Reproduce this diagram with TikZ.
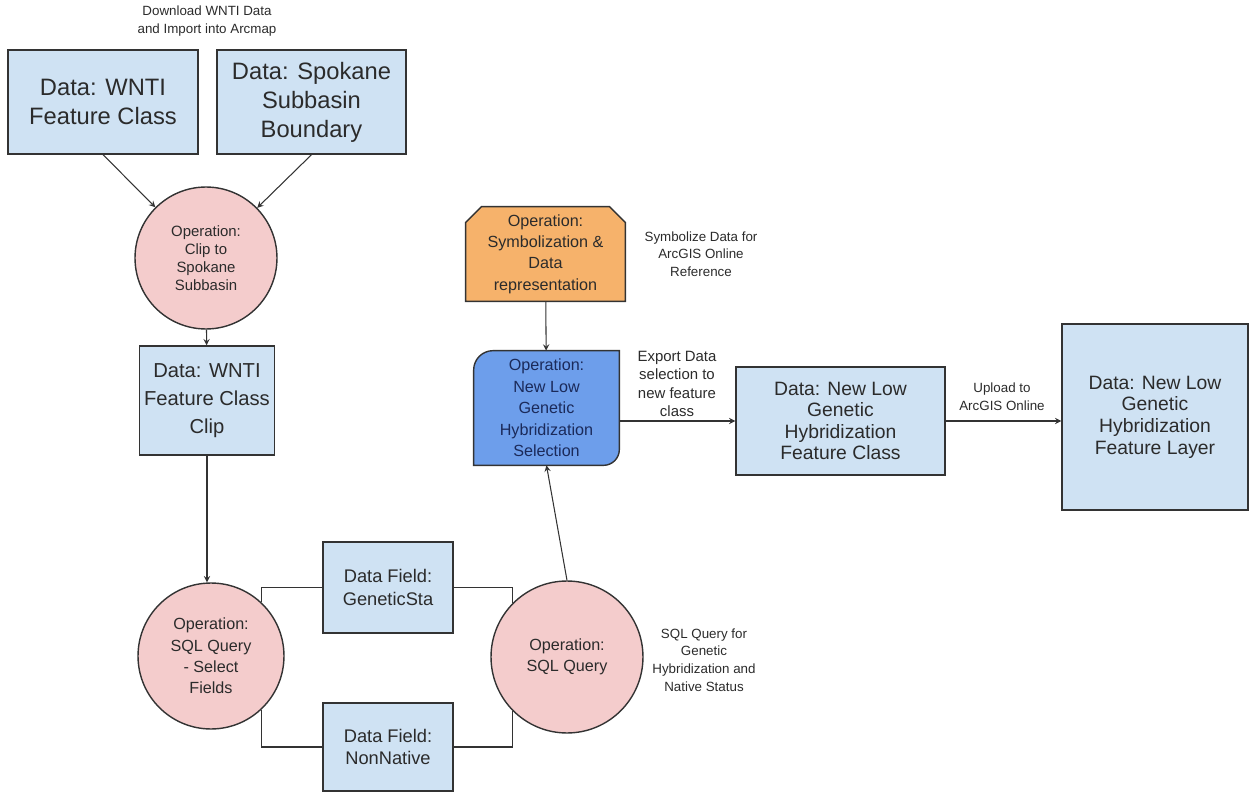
\documentclass[tikz,border=0pt]{standalone}
\usepackage{fontspec}
\setmainfont{Liberation Sans}
\usetikzlibrary{positioning,backgrounds,arrows}
\definecolor{databg}{HTML}{CFE2F3}
\definecolor{opbg}{HTML}{F4CCCC}
\definecolor{symbg}{HTML}{F6B26B}
\definecolor{selbg}{HTML}{6D9EEB}
\definecolor{edge}{HTML}{333333}
\definecolor{ink}{HTML}{2B2B2B}
\definecolor{selink}{HTML}{1B2A5A}
\tikzstyle{databox} = [draw=edge, line width=0.8pt, fill=databg, rectangle, text=ink, align=center, inner sep=2pt]
\tikzstyle{bigtext} = [font=\fontsize{13.5}{16.5}\selectfont]
\tikzstyle{midtext} = [font=\fontsize{11}{12.3}\selectfont]
\tikzstyle{optext} = [font=\fontsize{9.2}{12.2}\selectfont]
\tikzstyle{opcircle} = [draw=edge, line width=0.8pt, fill=opbg, circle, text=ink, align=center, inner sep=0pt]
\tikzstyle{opbox} = [rectangle, align=center, inner sep=0pt, optext]
\tikzstyle{note} = [text=ink, align=center, font=\fontsize{7.6}{10}\selectfont]
\tikzstyle{arrow} = [line width=0.6pt, draw=edge, ->, >=stealth]
\tikzstyle{link} = [line width=0.6pt, draw=edge]

\begin{document}
\begin{tikzpicture}[x=0.02cm, y=-0.02cm]
    \useasboundingbox (0,0) rectangle (1249,794);

    % source data
    \node[note] (download) at (207,21) {Download WNTI Data\\and Import into Arcmap};
    \node[databox, bigtext, minimum width=3.8cm,  minimum height=2.08cm] (wnti)    at (103,102)   {Data: WNTI\\Feature Class};
    \node[databox, bigtext, minimum width=3.78cm, minimum height=2.08cm] (spokane) at (311.5,102) {Data: Spokane\\Subbasin\\Boundary};

    % clip
    \node[opcircle, minimum size=2.84cm, font=\fontsize{8.5}{10.2}\selectfont] (clip) at (206,258) {Operation:\\Clip to\\Spokane\\Subbasin};
    \node[databox, font=\fontsize{11.5}{16}\selectfont, minimum width=2.7cm, minimum height=2.18cm] (clipbox) at (207,400.5) {Data: WNTI\\Feature Class\\Clip};

    % field selection and query
    \node[opcircle, optext, minimum size=2.92cm] (select) at (211,656) {Operation:\\SQL Query\\- Select\\Fields};
    \node[databox, font=\fontsize{10.4}{13}\selectfont, minimum width=2.6cm, minimum height=1.82cm] (genetic)   at (388,587.5) {Data Field:\\GeneticSta};
    \node[databox, font=\fontsize{10.4}{13}\selectfont, minimum width=2.6cm, minimum height=1.76cm] (nonnative) at (388,747)   {Data Field:\\NonNative};
    \node[opcircle, optext, minimum size=3.04cm] (sql) at (567,657) {Operation:\\SQL Query};
    \node[note] (sqlnote) at (704,660) {SQL Query for\\Genetic\\Hybridization and\\Native Status};

    % symbolization and selection
    \node[opbox, text=ink, minimum width=3.18cm, minimum height=1.88cm] (symbol) at (545.5,254) {Operation:\\Symbolization \&\\Data\\representation};
    \node[note] (symnote) at (701,254) {Symbolize Data for\\ArcGIS Online\\Reference};
    \node[opbox, text=selink, minimum width=2.9cm, minimum height=2.28cm] (selection) at (546.5,408) {Operation:\\New Low\\Genetic\\Hybridization\\Selection};
    \node[note, font=\fontsize{8.5}{10.5}\selectfont] (export) at (677,384) {Export Data\\selection to\\new feature\\class};

    % outputs
    \node[databox, midtext, minimum width=4.18cm, minimum height=2.16cm] (fc) at (840.5,421) {Data: New Low\\Genetic\\Hybridization\\Feature Class};
    \node[note] (upload) at (1002,397) {Upload to\\ArcGIS Online};
    \node[databox, midtext, minimum width=3.72cm, minimum height=3.72cm] (layer) at (1155,417) {Data: New Low\\Genetic\\Hybridization\\Feature Layer};

    \begin{scope}[on background layer]
        \draw[line width=0.8pt, draw=edge, fill=symbg] (symbol.south west) -- ([yshift=-9pt]symbol.north west) -- ([xshift=9pt]symbol.north west)
            -- ([xshift=-9pt]symbol.north east) -- ([yshift=-9pt]symbol.north east) -- (symbol.south east) -- cycle;
        \draw[line width=0.8pt, draw=edge, fill=selbg] (selection.south west) -- ([yshift=-11pt]selection.north west)
            arc[start angle=180, end angle=90, radius=11pt] -- (selection.north east)
            -- ([yshift=9pt]selection.south east) arc[start angle=0, end angle=-90, radius=9pt] -- cycle;
    \end{scope}

    \draw[arrow] (wnti.south) -- (clip);
    \draw[arrow] (spokane.south) -- (clip);
    \draw[arrow] (clip) -- (clipbox);
    \draw[arrow] (clipbox.south) -- (clipbox.south |- select.north);
    \draw[link]  (select.47) |- (genetic.west);
    \draw[link]  (genetic.east) -| (sql.135);
    \draw[link]  (select.-47) |- (nonnative.west);
    \draw[link]  (nonnative.east) -| (sql.225);
    \draw[arrow] (sql.north) -- (selection.south);
    \draw[arrow] (symbol) -- (selection);
    \draw[arrow] (selection.east |- fc.west) -- (fc.west);
    \draw[arrow] (fc.east) -- (fc.east -| layer.west);

\end{tikzpicture}
\end{document}
